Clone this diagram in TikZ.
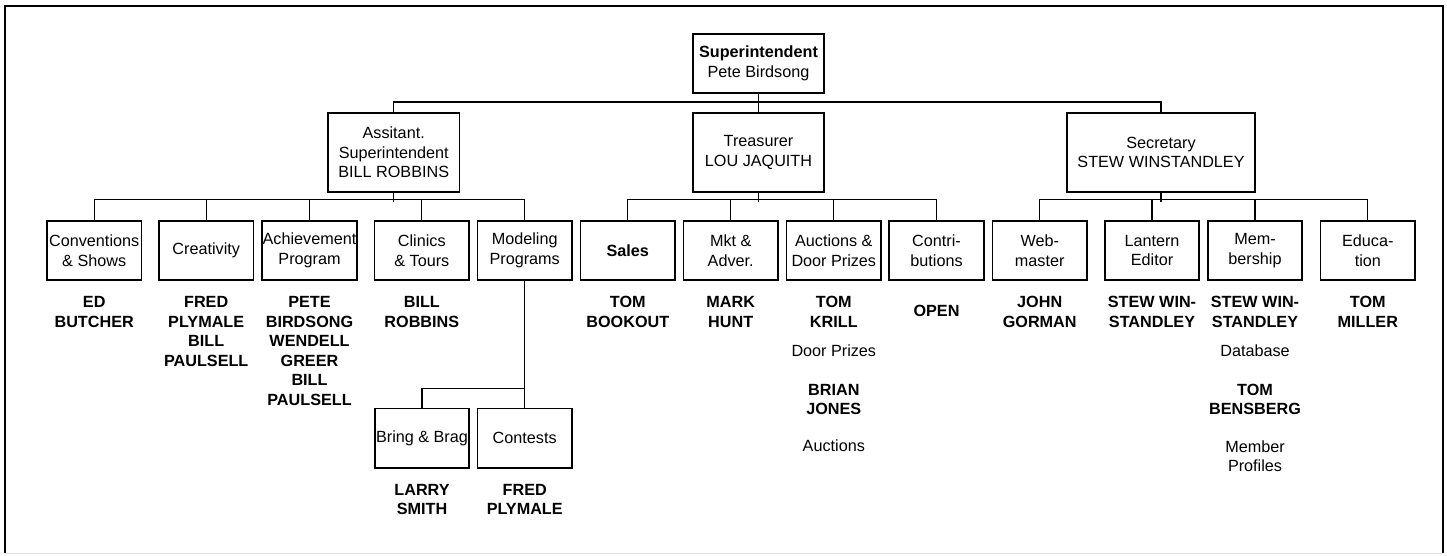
\documentclass[tikz,border=0pt]{standalone}
\usepackage{fontspec}
\setmainfont{Liberation Sans}
\usepackage{tikz}
\usetikzlibrary{positioning}
\newcommand\chartfont{\fontsize{16.2}{19.5}\selectfont}
\tikzstyle{orgbox} = [draw, line width=1.8pt,
align=center, inner sep=0pt,
minimum width=94.5pt, minimum height=59.5pt]
\tikzstyle{headbox} = [orgbox, minimum width=131.5pt, minimum height=79.6pt]
\tikzstyle{namebox} = [align=center, inner sep=0pt,
font=\chartfont\bfseries]
\tikzstyle{notebox} = [align=center, inner sep=0pt]
\tikzstyle{link} = [line width=1.3pt]

\begin{document}
\begin{tikzpicture}[x=1pt, y=-1pt, every node/.style={font=\chartfont}]
	\useasboundingbox (0,0) rectangle (1447,555);
	%% frame
	\draw[line width=2.8pt] (5,553) -- (5,6) -- (1443,6) -- (1443,553);
	\draw[gray!25, line width=1pt] (5,553) -- (1443,553);
	%% top levels
	\node[orgbox, minimum width=131.5pt, minimum height=58.7pt] (sup) at (758.5,63.4) {\textbf{Superintendent}\\Pete Birdsong};
	\node[headbox] (asst) at (393.7,152.5) {Assitant.\\Superintendent\\BILL ROBBINS};
	\node[headbox] (tre) at (758.5,152.5) {Treasurer\\LOU JAQUITH};
	\node[headbox, minimum width=188.6pt] (sec) at (1161,152.5) {Secretary\\STEW WINSTANDLEY};
	%% assistant's committees
	\node[orgbox] (conv) at (94.2,250.5) {Conventions\\\& Shows};
	\node[orgbox] (crea) at (206.2,250.5) {Creativity};
	\node[orgbox] (achv) at (309.5,250.5) {Achievement\\Program};
	\node[orgbox] (clin) at (421.8,250.5) {Clinics\\\& Tours};
	\node[orgbox] (model) at (524.7,250.5) {Modeling\\Programs};
	\node[orgbox] (brag) at (422,438.3) {Bring \& Brag};
	\node[orgbox] (cont) at (524.7,438.3) {Contests};
	%% treasurer's committees
	\node[orgbox] (sales) at (627.8,250.5) {\textbf{Sales}};
	\node[orgbox] (mkt) at (730.7,250.5) {Mkt \&\\Adver.};
	\node[orgbox] (auct) at (833.8,250.5) {Auctions \&\\Door Prizes};
	\node[orgbox] (contr) at (936.5,250.5) {Contri-\\butions};
	%% secretary's committees
	\node[orgbox] (web) at (1039.7,250.5) {Web-\\master};
	\node[orgbox] (lant) at (1152,250.5) {Lantern\\Editor};
	\node[orgbox] (memb) at (1255,250.5) {Mem-\\bership};
	\node[orgbox] (educ) at (1367.8,250.5) {Educa-\\tion};
	%% people
	\node[namebox, below=15pt of conv] (convName) {ED\\BUTCHER};
	\node[namebox, below=15pt of crea] (creaName) {FRED\\PLYMALE\\BILL\\PAULSELL};
	\node[namebox, below=15pt of achv] (achvName) {PETE\\BIRDSONG\\WENDELL\\GREER\\BILL\\PAULSELL};
	\node[namebox, below=15pt of clin] (clinName) {BILL\\ROBBINS};
	\node[namebox, below=15pt of brag] (bragName) {LARRY\\SMITH};
	\node[namebox, below=15pt of cont] (contName) {FRED\\PLYMALE};
	\node[namebox, below=15pt of sales] (salesName) {TOM\\BOOKOUT};
	\node[namebox, below=15pt of mkt] (mktName) {MARK\\HUNT};
	\node[namebox, below=15pt of auct] (auctName) {TOM\\KRILL};
	\node[notebox, below=17pt of auctName] (auctDoor) {Door Prizes};
	\node[namebox, below=27pt of auctDoor] (auctName2) {BRIAN\\JONES};
	\node[notebox, below=25pt of auctName2] (auctAuct) {Auctions};
	\node[namebox, below=23.5pt of contr] (contrName) {OPEN};
	\node[namebox, below=15pt of web] (webName) {JOHN\\GORMAN};
	\node[namebox, below=15pt of lant] (lantName) {STEW WIN-\\STANDLEY};
	\node[namebox, below=15pt of memb] (membName) {STEW WIN-\\STANDLEY};
	\node[notebox, below=17pt of membName] (membData) {Database};
	\node[namebox, below=27pt of membData] (membName2) {TOM\\BENSBERG};
	\node[notebox, below=25pt of membName2] (membProf) {Member\\Profiles};
	\node[namebox, below=15pt of educ] (educName) {TOM\\MILLER};
	%% Superintendent to officers
	\draw[link] (sup) -- (tre);
	\draw[link] (asst.north) -- ++(0,-9.7) -| (sec.north);
	%% officers to committees
	\draw[link] (asst.south) -- ++(0,8.4);
	\draw[link] (conv.north) -- ++(0,-20.3) -| (model.north);
	\foreach \n in {crea, achv, clin}
		\draw[link] (\n.north) -- ++(0,-20.3);
	\draw[link] (tre.south) -- ++(0,8.4);
	\draw[link] (sales.north) -- ++(0,-20.3) -| (contr.north);
	\foreach \n in {mkt, auct}
		\draw[link] (\n.north) -- ++(0,-20.3);
	\draw[link] (sec.south) -- ++(0,8.4);
	\draw[link] (web.north) -- ++(0,-20.3) -| (educ.north);
	\foreach \n in {lant, memb}
		\draw[link] (\n.north) -- ++(0,-20.3);
	%% modeling programs
	\draw[link] (model) -- (cont);
	\draw[link] (brag.north) -- ++(0,-19) -| (model.south);
\end{tikzpicture}
\end{document}
